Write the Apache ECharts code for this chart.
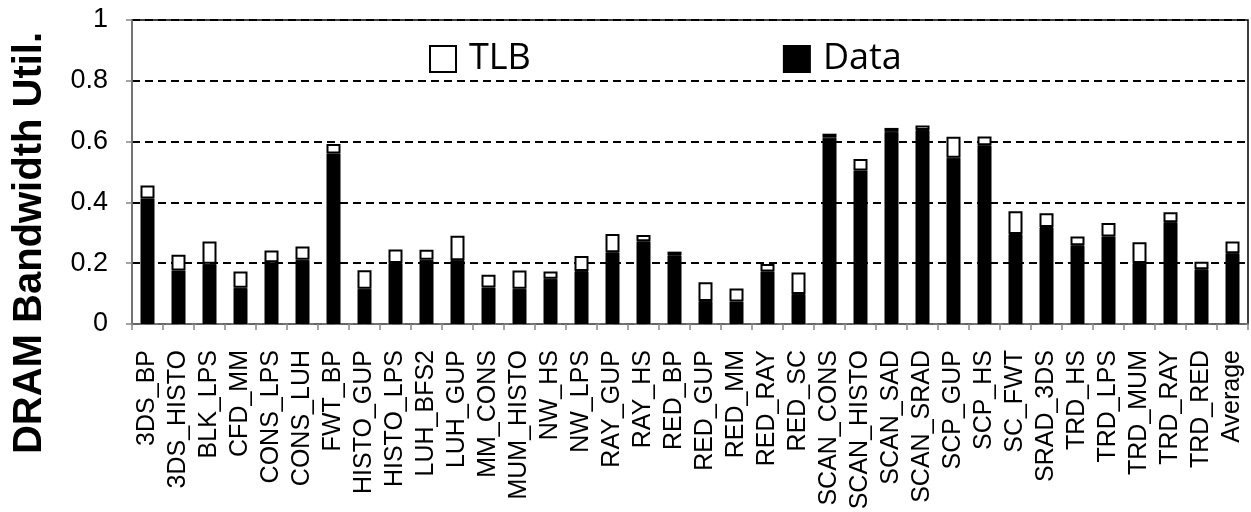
<!DOCTYPE html>
<html>
<head>
<meta charset="utf-8">
<script src="https://cdn.jsdelivr.net/npm/echarts@6/dist/echarts.min.js"></script>
<style>
html,body{margin:0;padding:0;background:#fff;}
#chart{width:1251px;height:512px;}
</style>
</head>
<body>
<div id="chart"></div>
<script>
const categories = ['3DS_BP','3DS_HISTO','BLK_LPS','CFD_MM','CONS_LPS','CONS_LUH','FWT_BP','HISTO_GUP','HISTO_LPS','LUH_BFS2','LUH_GUP','MM_CONS','MUM_HISTO','NW_HS','NW_LPS','RAY_GUP','RAY_HS','RED_BP','RED_GUP','RED_MM','RED_RAY','RED_SC','SCAN_CONS','SCAN_HISTO','SCAN_SAD','SCAN_SRAD','SCP_GUP','SCP_HS','SC_FWT','SRAD_3DS','TRD_HS','TRD_LPS','TRD_MUM','TRD_RAY','TRD_RED','Average'];
const dataVals = [0.413,0.176,0.198,0.119,0.203,0.211,0.561,0.116,0.201,0.211,0.210,0.120,0.116,0.149,0.174,0.236,0.272,0.226,0.076,0.074,0.173,0.099,0.613,0.505,0.632,0.638,0.547,0.588,0.296,0.319,0.259,0.288,0.201,0.335,0.180,0.233];
const tlbVals = [0.043,0.052,0.073,0.054,0.039,0.044,0.031,0.061,0.044,0.033,0.080,0.042,0.060,0.024,0.050,0.060,0.021,0.012,0.061,0.043,0.024,0.070,0.013,0.038,0.013,0.015,0.069,0.029,0.075,0.045,0.029,0.044,0.068,0.033,0.025,0.038];
const yTicks = [0, 0.2, 0.4, 0.6, 0.8, 1];

const chart = echarts.init(document.getElementById('chart'));
chart.setOption({
  animation: false,
  backgroundColor: '#fff',
  grid: {left: 132, right: 3, top: 20, bottom: 188, show: true, borderColor: '#000', borderWidth: 1.5, backgroundColor: 'transparent', outerBoundsMode: 'none'},
  legend: {
    data: ['TLB', 'Data'],
    left: 424, top: 36,
    itemWidth: 26, itemHeight: 26, itemGap: 252,
    icon: 'rect',
    textStyle: {fontFamily: 'Open Sans', fontSize: 36, color: '#000', lineHeight: 36, padding: [0, 0, 0, 8]}
  },
  graphic: [{
    type: 'text', x: 30, y: 243, rotation: Math.PI / 2,
    style: {text: 'DRAM Bandwidth Util.', font: 'bold 40px "Liberation Sans", Arial, sans-serif', fill: '#000', align: 'center', verticalAlign: 'middle'}
  }],
  xAxis: {
    type: 'category', data: categories,
    axisLine: {lineStyle: {color: '#868686', width: 1.5}},
    axisTick: {show: true, length: 6, lineStyle: {color: '#868686', width: 1.5}},
    axisLabel: {rotate: 90, interval: 0, margin: 26, hideOverlap: false,
      color: '#000', fontFamily: 'Liberation Sans', fontSize: 25}
  },
  yAxis: {
    type: 'value', min: yTicks[0], max: yTicks[yTicks.length - 1], interval: 0.2,
    axisLine: {show: true, lineStyle: {color: '#868686', width: 1.5}},
    axisTick: {show: true, length: 6, lineStyle: {color: '#868686', width: 1.5}},
    axisLabel: {margin: 24, color: '#000', fontFamily: 'Liberation Sans', fontSize: 27,
      formatter: v => String(Math.round(v * 10) / 10)},
    splitLine: {show: true, lineStyle: {color: '#000', width: 2, type: [8, 5]}}
  },
  series: [
    {name: 'Data', type: 'bar', stack: 'u', data: dataVals, barWidth: 14,
     itemStyle: {color: '#000', borderColor: '#000', borderWidth: 1}},
    {name: 'TLB', type: 'bar', stack: 'u', data: tlbVals, barWidth: 14,
     itemStyle: {color: '#fff', borderColor: '#000', borderWidth: 2}}
  ]
});
</script>
</body>
</html>
